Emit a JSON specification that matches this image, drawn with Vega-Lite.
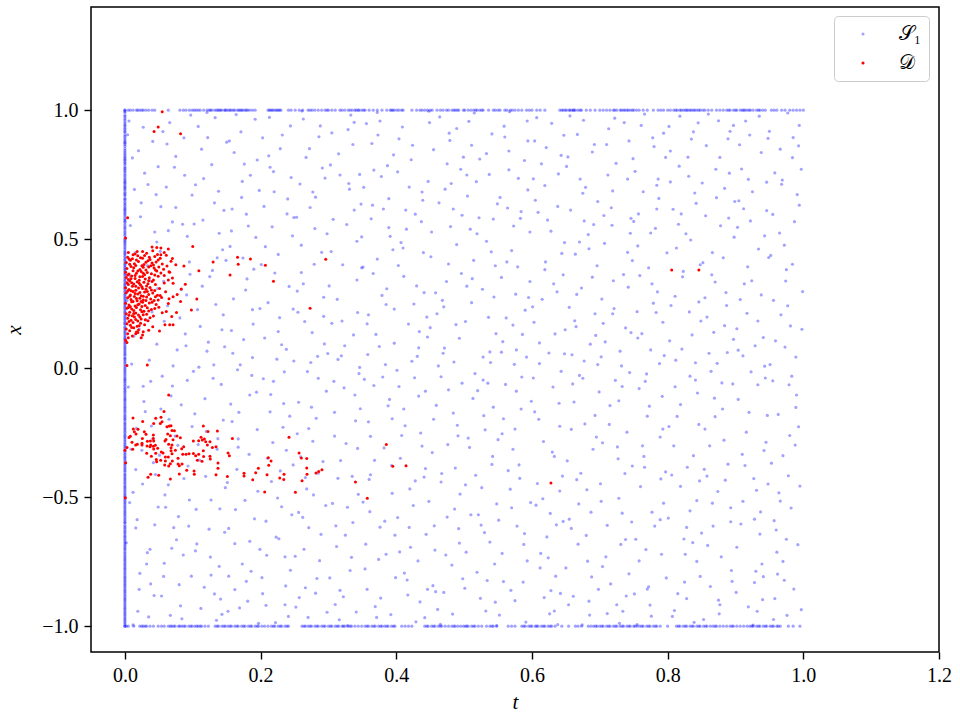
{
"$schema":"https://vega.github.io/schema/vega-lite/v6.json",
"width":848,"height":645,
"autosize":{"type":"none"},
"padding":{"left":91,"top":7,"right":21,"bottom":68},
"background":"white",
"config":{
"view":{"stroke":"black","strokeWidth":1.5},
"axis":{"domain":false,"grid":false,"tickColor":"black","tickSize":7,"tickWidth":1.4,"labelFont":"Liberation Serif","labelFontSize":20,"labelColor":"black","labelPadding":6,"titleFont":"Liberation Serif","titleFontSize":21,"titleFontStyle":"italic","titleFontWeight":"normal","titleColor":"black","labelFlush":false,"labelOverlap":false}
},
"datasets":{
"S1":[
{"t":0.034,"x":0.712},{"t":0.012,"x":-0.481},{"t":0.047,"x":0.093},{"t":0.021,"x":-0.857},{"t":0.008,"x":0.356},{"t":0.039,"x":-0.224},{"t":0.027,"x":0.934},{"t":0.016,"x":-0.619},{"t":0.044,"x":0.528},{"t":0.005,"x":-0.073},{"t":0.031,"x":0.187},{"t":0.019,"x":-0.942},{"t":0.042,"x":-0.366},{"t":0.024,"x":0.641},{"t":0.011,"x":0.815},{"t":0.037,"x":-0.702},{"t":0.003,"x":0.262},{"t":0.049,"x":-0.538},{"t":0.028,"x":-0.129},{"t":0.015,"x":0.447},{"t":0.041,"x":0.879},{"t":0.022,"x":-0.795},{"t":0.036,"x":0.031},{"t":0.009,"x":-0.314},{"t":0.046,"x":0.673},{"t":0.018,"x":-0.587},{"t":0.033,"x":0.398},{"t":0.006,"x":0.958},{"t":0.043,"x":-0.881},{"t":0.026,"x":-0.449},{"t":0.013,"x":0.124},{"t":0.038,"x":-0.051},{"t":0.029,"x":0.756},{"t":0.002,"x":-0.677},{"t":0.048,"x":0.309},{"t":0.017,"x":-0.233},{"t":0.035,"x":-0.964},{"t":0.023,"x":0.587},{"t":0.045,"x":-0.412},{"t":0.01,"x":0.016},{"t":0.032,"x":-0.759},{"t":0.02,"x":0.843},{"t":0.04,"x":0.218},{"t":0.007,"x":-0.521},{"t":0.025,"x":-0.318},{"t":0.047,"x":0.489},{"t":0.014,"x":0.693},{"t":0.038,"x":-0.836},{"t":0.03,"x":-0.168},{"t":0.004,"x":0.905},{"t":0.044,"x":-0.607},{"t":0.021,"x":0.152},{"t":0.012,"x":-0.995},{"t":0.036,"x":0.342},{"t":0.027,"x":-0.07},{"t":0.049,"x":0.781},{"t":0.016,"x":-0.393},{"t":0.041,"x":-0.274},{"t":0.008,"x":0.553},{"t":0.033,"x":-0.715},
{"t":0.072,"x":-0.618},{"t":0.091,"x":0.284},{"t":0.056,"x":0.917},{"t":0.083,"x":-0.142},{"t":0.064,"x":0.533},{"t":0.098,"x":-0.806},{"t":0.051,"x":-0.337},{"t":0.077,"x":0.071},{"t":0.088,"x":0.748},{"t":0.059,"x":-0.491},{"t":0.095,"x":0.412},{"t":0.067,"x":-0.958},{"t":0.081,"x":0.195},{"t":0.053,"x":0.626},{"t":0.074,"x":-0.263},{"t":0.092,"x":-0.047},{"t":0.062,"x":0.869},{"t":0.086,"x":-0.724},{"t":0.057,"x":0.337},{"t":0.079,"x":-0.575},{"t":0.097,"x":0.981},{"t":0.068,"x":-0.107},{"t":0.054,"x":-0.883},{"t":0.085,"x":0.558},{"t":0.071,"x":0.009},{"t":0.093,"x":-0.379},{"t":0.061,"x":0.702},{"t":0.076,"x":-0.665},{"t":0.089,"x":0.133},{"t":0.052,"x":0.453},{"t":0.082,"x":-0.921},{"t":0.065,"x":-0.198},{"t":0.099,"x":0.671},{"t":0.058,"x":-0.756},{"t":0.075,"x":0.821},{"t":0.087,"x":-0.428},{"t":0.063,"x":0.242},{"t":0.094,"x":-0.612},{"t":0.07,"x":0.567},{"t":0.055,"x":-0.031},{"t":0.08,"x":-0.839},{"t":0.096,"x":0.364},{"t":0.066,"x":0.952},{"t":0.078,"x":-0.299},{"t":0.06,"x":-0.539},{"t":0.09,"x":0.087},{"t":0.073,"x":0.779},{"t":0.084,"x":-0.971},{"t":0.058,"x":0.182},{"t":0.069,"x":-0.698},{"t":0.092,"x":0.511},{"t":0.053,"x":-0.158},{"t":0.087,"x":0.893},{"t":0.064,"x":-0.452},{"t":0.099,"x":-0.226},{"t":0.075,"x":0.623},{"t":0.057,"x":-0.807},{"t":0.083,"x":0.305},{"t":0.07,"x":-0.069},{"t":0.095,"x":-0.511},
{"t":0.113,"x":0.849},{"t":0.137,"x":-0.273},{"t":0.121,"x":0.066},{"t":0.146,"x":0.612},{"t":0.104,"x":-0.708},{"t":0.129,"x":0.379},{"t":0.141,"x":-0.895},{"t":0.118,"x":-0.118},{"t":0.133,"x":0.971},{"t":0.107,"x":0.227},{"t":0.148,"x":-0.463},{"t":0.124,"x":-0.624},{"t":0.139,"x":0.523},{"t":0.101,"x":-0.012},{"t":0.116,"x":0.735},{"t":0.143,"x":0.149},{"t":0.127,"x":-0.802},{"t":0.11,"x":-0.356},{"t":0.135,"x":-0.977},{"t":0.149,"x":0.418},{"t":0.122,"x":0.894},{"t":0.105,"x":-0.547},{"t":0.131,"x":0.013},{"t":0.145,"x":-0.201},{"t":0.114,"x":0.318},{"t":0.138,"x":0.686},{"t":0.102,"x":0.559},{"t":0.126,"x":-0.732},{"t":0.142,"x":-0.063},{"t":0.119,"x":-0.419},{"t":0.134,"x":0.247},{"t":0.108,"x":0.937},{"t":0.147,"x":-0.636},{"t":0.123,"x":0.101},{"t":0.112,"x":-0.931},{"t":0.136,"x":-0.314},{"t":0.128,"x":0.789},{"t":0.103,"x":-0.177},{"t":0.144,"x":0.459},{"t":0.117,"x":-0.849},{"t":0.132,"x":0.641},{"t":0.109,"x":0.004},{"t":0.14,"x":-0.545},{"t":0.125,"x":0.355},{"t":0.106,"x":-0.681},{"t":0.15,"x":0.876},{"t":0.12,"x":-0.245},{"t":0.13,"x":-0.039},{"t":0.145,"x":0.207},{"t":0.115,"x":0.574},{"t":0.139,"x":-0.768},{"t":0.104,"x":0.711},{"t":0.127,"x":-0.511},{"t":0.111,"x":0.162},{"t":0.143,"x":-0.954},{"t":0.121,"x":0.991},{"t":0.136,"x":0.428},{"t":0.108,"x":-0.296},{"t":0.132,"x":-0.875},{"t":0.147,"x":0.083},
{"t":0.163,"x":-0.548},{"t":0.188,"x":0.227},{"t":0.171,"x":0.916},{"t":0.194,"x":-0.093},{"t":0.155,"x":0.472},{"t":0.179,"x":-0.826},{"t":0.167,"x":-0.306},{"t":0.198,"x":0.689},{"t":0.159,"x":0.058},{"t":0.184,"x":-0.671},{"t":0.176,"x":0.791},{"t":0.152,"x":-0.942},{"t":0.19,"x":0.384},{"t":0.168,"x":-0.171},{"t":0.182,"x":0.551},{"t":0.157,"x":0.146},{"t":0.196,"x":-0.477},{"t":0.173,"x":-0.759},{"t":0.161,"x":0.836},{"t":0.187,"x":-0.028},{"t":0.153,"x":-0.621},{"t":0.178,"x":0.303},{"t":0.192,"x":0.965},{"t":0.165,"x":-0.392},{"t":0.181,"x":-0.903},{"t":0.158,"x":0.617},{"t":0.195,"x":-0.238},{"t":0.17,"x":0.013},{"t":0.185,"x":0.748},{"t":0.156,"x":-0.139},{"t":0.174,"x":0.427},{"t":0.199,"x":-0.702},{"t":0.162,"x":-0.858},{"t":0.189,"x":0.171},{"t":0.177,"x":-0.512},{"t":0.154,"x":0.881},{"t":0.193,"x":0.507},{"t":0.166,"x":-0.006},{"t":0.183,"x":-0.334},{"t":0.16,"x":0.269},{"t":0.197,"x":-0.989},{"t":0.172,"x":0.662},{"t":0.151,"x":-0.443},{"t":0.186,"x":-0.787},{"t":0.175,"x":0.111},{"t":0.164,"x":0.983},{"t":0.191,"x":-0.584},{"t":0.158,"x":-0.207},{"t":0.18,"x":0.346},{"t":0.169,"x":-0.929},{"t":0.195,"x":0.807},{"t":0.157,"x":0.532},{"t":0.184,"x":-0.104},{"t":0.173,"x":0.724},{"t":0.162,"x":-0.68},{"t":0.188,"x":0.041},{"t":0.167,"x":-0.274},{"t":0.199,"x":0.231},{"t":0.153,"x":-0.806},{"t":0.179,"x":0.597},
{"t":0.214,"x":0.779},{"t":0.238,"x":-0.318},{"t":0.226,"x":0.142},{"t":0.203,"x":-0.874},{"t":0.247,"x":0.513},{"t":0.219,"x":-0.051},{"t":0.232,"x":0.904},{"t":0.208,"x":-0.593},{"t":0.243,"x":-0.186},{"t":0.221,"x":0.369},{"t":0.236,"x":-0.731},{"t":0.205,"x":0.627},{"t":0.249,"x":0.028},{"t":0.216,"x":-0.439},{"t":0.229,"x":0.851},{"t":0.241,"x":-0.962},{"t":0.211,"x":0.254},{"t":0.234,"x":-0.137},{"t":0.223,"x":-0.655},{"t":0.207,"x":0.471},{"t":0.245,"x":0.739},{"t":0.218,"x":-0.288},{"t":0.231,"x":0.091},{"t":0.202,"x":-0.812},{"t":0.239,"x":0.598},{"t":0.225,"x":-0.503},{"t":0.213,"x":0.972},{"t":0.248,"x":-0.375},{"t":0.228,"x":0.196},{"t":0.204,"x":-0.041},{"t":0.236,"x":-0.917},{"t":0.22,"x":0.684},{"t":0.242,"x":0.317},{"t":0.209,"x":-0.725},{"t":0.233,"x":-0.229},{"t":0.217,"x":0.548},{"t":0.246,"x":-0.568},{"t":0.224,"x":0.035},{"t":0.212,"x":0.823},{"t":0.237,"x":-0.844},{"t":0.201,"x":0.402},{"t":0.229,"x":-0.398},{"t":0.244,"x":0.939},{"t":0.215,"x":-0.102},{"t":0.227,"x":-0.661},{"t":0.206,"x":0.117},{"t":0.24,"x":0.656},{"t":0.222,"x":-0.986},{"t":0.235,"x":-0.014},{"t":0.21,"x":-0.349},{"t":0.248,"x":0.229},{"t":0.219,"x":0.762},{"t":0.231,"x":-0.537},{"t":0.203,"x":0.893},{"t":0.244,"x":-0.783},{"t":0.226,"x":0.441},{"t":0.214,"x":-0.169},{"t":0.238,"x":0.073},{"t":0.208,"x":-0.919},{"t":0.249,"x":0.584},
{"t":0.263,"x":0.327},{"t":0.287,"x":-0.746},{"t":0.272,"x":0.851},{"t":0.256,"x":-0.132},{"t":0.294,"x":0.094},{"t":0.268,"x":-0.468},{"t":0.281,"x":0.663},{"t":0.252,"x":-0.926},{"t":0.277,"x":-0.283},{"t":0.298,"x":0.521},{"t":0.261,"x":0.997},{"t":0.285,"x":-0.039},{"t":0.271,"x":-0.618},{"t":0.255,"x":0.217},{"t":0.291,"x":0.776},{"t":0.266,"x":-0.851},{"t":0.279,"x":0.403},{"t":0.259,"x":-0.344},{"t":0.296,"x":-0.532},{"t":0.274,"x":0.022},{"t":0.288,"x":0.939},{"t":0.253,"x":0.585},{"t":0.282,"x":-0.194},{"t":0.264,"x":-0.702},{"t":0.293,"x":0.275},{"t":0.27,"x":-0.966},{"t":0.258,"x":0.714},{"t":0.285,"x":-0.407},{"t":0.276,"x":0.138},{"t":0.297,"x":-0.089},{"t":0.262,"x":-0.578},{"t":0.29,"x":0.449},{"t":0.267,"x":0.817},{"t":0.254,"x":-0.254},{"t":0.283,"x":-0.815},{"t":0.273,"x":0.623},{"t":0.299,"x":0.057},{"t":0.26,"x":0.371},{"t":0.278,"x":-0.491},{"t":0.286,"x":0.897},{"t":0.251,"x":-0.729},{"t":0.269,"x":-0.013},{"t":0.292,"x":-0.362},{"t":0.265,"x":0.181},{"t":0.28,"x":0.541},{"t":0.257,"x":-0.889},{"t":0.295,"x":0.737},{"t":0.275,"x":-0.151},{"t":0.263,"x":0.966},{"t":0.289,"x":-0.644},{"t":0.254,"x":0.299},{"t":0.271,"x":-0.234},{"t":0.284,"x":0.046},{"t":0.298,"x":-0.946},{"t":0.26,"x":0.477},{"t":0.277,"x":0.683},{"t":0.266,"x":-0.424},{"t":0.293,"x":0.201},{"t":0.256,"x":-0.559},{"t":0.281,"x":-0.872},
{"t":0.314,"x":-0.427},{"t":0.338,"x":0.613},{"t":0.322,"x":-0.886},{"t":0.305,"x":0.174},{"t":0.347,"x":-0.157},{"t":0.329,"x":0.925},{"t":0.311,"x":-0.611},{"t":0.342,"x":0.342},{"t":0.319,"x":0.048},{"t":0.334,"x":-0.733},{"t":0.303,"x":0.788},{"t":0.326,"x":-0.292},{"t":0.349,"x":0.509},{"t":0.316,"x":-0.975},{"t":0.337,"x":0.129},{"t":0.308,"x":-0.051},{"t":0.331,"x":0.694},{"t":0.344,"x":-0.489},{"t":0.321,"x":0.401},{"t":0.302,"x":-0.813},{"t":0.336,"x":0.867},{"t":0.313,"x":0.267},{"t":0.34,"x":-0.204},{"t":0.325,"x":-0.647},{"t":0.307,"x":0.577},{"t":0.346,"x":0.003},{"t":0.318,"x":-0.358},{"t":0.333,"x":0.981},{"t":0.31,"x":-0.916},{"t":0.343,"x":0.216},{"t":0.328,"x":-0.539},{"t":0.304,"x":0.452},{"t":0.339,"x":-0.104},{"t":0.317,"x":0.749},{"t":0.332,"x":-0.784},{"t":0.348,"x":0.636},{"t":0.309,"x":-0.263},{"t":0.324,"x":0.087},{"t":0.341,"x":-0.945},{"t":0.315,"x":0.831},{"t":0.335,"x":-0.419},{"t":0.301,"x":0.319},{"t":0.327,"x":0.557},{"t":0.345,"x":-0.021},{"t":0.312,"x":-0.691},{"t":0.338,"x":0.953},{"t":0.32,"x":0.183},{"t":0.306,"x":-0.524},{"t":0.343,"x":-0.311},{"t":0.33,"x":0.716},{"t":0.317,"x":-0.861},{"t":0.349,"x":0.389},{"t":0.323,"x":-0.076},{"t":0.305,"x":0.912},{"t":0.336,"x":-0.598},{"t":0.314,"x":0.034},{"t":0.342,"x":0.492},{"t":0.328,"x":-0.998},{"t":0.309,"x":-0.171},{"t":0.346,"x":0.751},
{"t":0.364,"x":0.871},{"t":0.388,"x":-0.146},{"t":0.372,"x":0.423},{"t":0.355,"x":-0.682},{"t":0.397,"x":0.229},{"t":0.369,"x":-0.924},{"t":0.381,"x":0.617},{"t":0.358,"x":0.053},{"t":0.393,"x":-0.377},{"t":0.376,"x":0.958},{"t":0.351,"x":-0.519},{"t":0.386,"x":0.308},{"t":0.367,"x":-0.067},{"t":0.399,"x":-0.812},{"t":0.378,"x":0.743},{"t":0.362,"x":-0.264},{"t":0.391,"x":0.511},{"t":0.357,"x":0.172},{"t":0.383,"x":-0.593},{"t":0.371,"x":-0.966},{"t":0.396,"x":0.827},{"t":0.36,"x":-0.431},{"t":0.375,"x":0.084},{"t":0.389,"x":0.657},{"t":0.354,"x":-0.778},{"t":0.38,"x":-0.034},{"t":0.366,"x":0.367},{"t":0.394,"x":-0.485},{"t":0.373,"x":0.904},{"t":0.359,"x":-0.208},{"t":0.385,"x":0.247},{"t":0.398,"x":-0.647},{"t":0.363,"x":0.579},{"t":0.377,"x":-0.891},{"t":0.352,"x":0.701},{"t":0.39,"x":-0.121},{"t":0.368,"x":-0.357},{"t":0.384,"x":0.014},{"t":0.356,"x":0.948},{"t":0.395,"x":0.459},{"t":0.374,"x":-0.741},{"t":0.361,"x":-0.556},{"t":0.387,"x":0.785},{"t":0.37,"x":0.131},{"t":0.353,"x":-0.043},{"t":0.392,"x":-0.955},{"t":0.379,"x":0.282},{"t":0.365,"x":0.632},{"t":0.382,"x":-0.309},{"t":0.357,"x":-0.857},{"t":0.397,"x":0.097},{"t":0.372,"x":0.991},{"t":0.362,"x":-0.413},{"t":0.389,"x":0.545},{"t":0.376,"x":-0.616},{"t":0.351,"x":0.392},{"t":0.394,"x":-0.196},{"t":0.367,"x":0.768},{"t":0.385,"x":-0.721},{"t":0.359,"x":0.207},
{"t":0.413,"x":-0.223},{"t":0.437,"x":0.568},{"t":0.421,"x":-0.694},{"t":0.404,"x":0.889},{"t":0.446,"x":0.121},{"t":0.428,"x":-0.437},{"t":0.411,"x":0.356},{"t":0.442,"x":-0.967},{"t":0.419,"x":0.702},{"t":0.433,"x":-0.108},{"t":0.402,"x":-0.579},{"t":0.426,"x":0.249},{"t":0.449,"x":0.952},{"t":0.416,"x":-0.821},{"t":0.438,"x":-0.302},{"t":0.407,"x":0.487},{"t":0.431,"x":0.046},{"t":0.444,"x":-0.644},{"t":0.422,"x":0.808},{"t":0.401,"x":-0.008},{"t":0.435,"x":-0.906},{"t":0.414,"x":0.613},{"t":0.441,"x":0.293},{"t":0.425,"x":-0.532},{"t":0.408,"x":-0.261},{"t":0.447,"x":0.724},{"t":0.418,"x":0.171},{"t":0.432,"x":-0.747},{"t":0.409,"x":0.935},{"t":0.443,"x":-0.389},{"t":0.427,"x":-0.037},{"t":0.403,"x":0.398},{"t":0.439,"x":0.651},{"t":0.417,"x":-0.879},{"t":0.433,"x":0.079},{"t":0.448,"x":-0.516},{"t":0.411,"x":-0.158},{"t":0.424,"x":0.864},{"t":0.44,"x":0.448},{"t":0.405,"x":-0.712},{"t":0.429,"x":-0.983},{"t":0.445,"x":0.198},{"t":0.415,"x":0.539},{"t":0.436,"x":-0.251},{"t":0.402,"x":0.761},{"t":0.42,"x":-0.468},{"t":0.443,"x":-0.089},{"t":0.43,"x":0.319},{"t":0.412,"x":-0.794},{"t":0.448,"x":0.996},{"t":0.423,"x":0.027},{"t":0.406,"x":-0.349},{"t":0.438,"x":0.683},{"t":0.419,"x":-0.617},{"t":0.434,"x":0.142},{"t":0.41,"x":0.466},{"t":0.446,"x":-0.857},{"t":0.428,"x":0.597},{"t":0.404,"x":-0.071},{"t":0.441,"x":-0.422},
{"t":0.463,"x":0.641},{"t":0.487,"x":-0.387},{"t":0.471,"x":0.078},{"t":0.454,"x":-0.843},{"t":0.496,"x":0.367},{"t":0.478,"x":0.911},{"t":0.459,"x":-0.144},{"t":0.492,"x":-0.622},{"t":0.468,"x":0.263},{"t":0.483,"x":-0.953},{"t":0.452,"x":0.528},{"t":0.476,"x":-0.296},{"t":0.499,"x":0.818},{"t":0.466,"x":-0.033},{"t":0.488,"x":0.169},{"t":0.457,"x":-0.705},{"t":0.481,"x":0.716},{"t":0.494,"x":-0.488},{"t":0.47,"x":-0.869},{"t":0.451,"x":0.432},{"t":0.485,"x":0.024},{"t":0.464,"x":0.974},{"t":0.49,"x":-0.221},{"t":0.475,"x":-0.577},{"t":0.458,"x":0.292},{"t":0.497,"x":0.593},{"t":0.467,"x":-0.408},{"t":0.482,"x":-0.763},{"t":0.455,"x":0.847},{"t":0.493,"x":0.116},{"t":0.477,"x":-0.084},{"t":0.461,"x":-0.935},{"t":0.489,"x":0.479},{"t":0.472,"x":0.694},{"t":0.453,"x":-0.327},{"t":0.486,"x":-0.546},{"t":0.469,"x":0.058},{"t":0.498,"x":-0.816},{"t":0.479,"x":0.883},{"t":0.46,"x":0.211},{"t":0.484,"x":-0.174},{"t":0.474,"x":0.336},{"t":0.456,"x":-0.611},{"t":0.495,"x":0.771},{"t":0.465,"x":-0.993},{"t":0.48,"x":0.549},{"t":0.491,"x":-0.262},{"t":0.462,"x":0.009},{"t":0.473,"x":-0.724},{"t":0.45,"x":0.157},{"t":0.489,"x":0.929},{"t":0.466,"x":-0.441},{"t":0.477,"x":0.404},{"t":0.497,"x":-0.058},{"t":0.458,"x":-0.866},{"t":0.484,"x":0.617},{"t":0.47,"x":0.238},{"t":0.455,"x":-0.198},{"t":0.493,"x":-0.678},{"t":0.475,"x":0.792},
{"t":0.513,"x":-0.117},{"t":0.537,"x":0.751},{"t":0.521,"x":-0.568},{"t":0.504,"x":0.318},{"t":0.546,"x":-0.907},{"t":0.528,"x":0.043},{"t":0.511,"x":0.864},{"t":0.542,"x":-0.342},{"t":0.519,"x":-0.791},{"t":0.533,"x":0.492},{"t":0.502,"x":0.181},{"t":0.526,"x":-0.463},{"t":0.549,"x":0.637},{"t":0.516,"x":-0.021},{"t":0.538,"x":-0.674},{"t":0.507,"x":0.957},{"t":0.531,"x":-0.239},{"t":0.544,"x":0.276},{"t":0.522,"x":0.583},{"t":0.501,"x":-0.853},{"t":0.535,"x":-0.058},{"t":0.514,"x":0.418},{"t":0.541,"x":0.908},{"t":0.525,"x":-0.608},{"t":0.508,"x":-0.307},{"t":0.547,"x":0.134},{"t":0.518,"x":0.723},{"t":0.532,"x":-0.941},{"t":0.509,"x":0.539},{"t":0.543,"x":-0.151},{"t":0.527,"x":0.306},{"t":0.503,"x":-0.713},{"t":0.539,"x":0.022},{"t":0.517,"x":-0.415},{"t":0.533,"x":0.832},{"t":0.548,"x":-0.526},{"t":0.511,"x":0.254},{"t":0.524,"x":-0.892},{"t":0.54,"x":0.451},{"t":0.505,"x":0.667},{"t":0.529,"x":-0.184},{"t":0.545,"x":-0.759},{"t":0.515,"x":0.989},{"t":0.536,"x":0.197},{"t":0.502,"x":-0.452},{"t":0.52,"x":-0.087},{"t":0.543,"x":0.578},{"t":0.53,"x":-0.637},{"t":0.512,"x":0.347},{"t":0.548,"x":-0.998},{"t":0.523,"x":0.811},{"t":0.506,"x":-0.271},{"t":0.538,"x":0.063},{"t":0.519,"x":0.521},{"t":0.534,"x":-0.823},{"t":0.51,"x":-0.568},{"t":0.546,"x":0.397},{"t":0.528,"x":-0.046},{"t":0.504,"x":0.749},{"t":0.541,"x":-0.373},
{"t":0.563,"x":0.412},{"t":0.587,"x":-0.829},{"t":0.572,"x":0.167},{"t":0.556,"x":-0.254},{"t":0.594,"x":0.691},{"t":0.578,"x":-0.612},{"t":0.559,"x":0.938},{"t":0.592,"x":0.043},{"t":0.568,"x":-0.469},{"t":0.583,"x":0.581},{"t":0.552,"x":-0.957},{"t":0.576,"x":0.287},{"t":0.599,"x":-0.128},{"t":0.566,"x":0.769},{"t":0.588,"x":-0.683},{"t":0.557,"x":0.103},{"t":0.581,"x":-0.375},{"t":0.594,"x":0.881},{"t":0.57,"x":0.456},{"t":0.551,"x":-0.589},{"t":0.585,"x":-0.034},{"t":0.564,"x":0.621},{"t":0.59,"x":0.225},{"t":0.575,"x":-0.901},{"t":0.558,"x":-0.196},{"t":0.597,"x":0.528},{"t":0.567,"x":0.994},{"t":0.582,"x":-0.427},{"t":0.555,"x":0.352},{"t":0.593,"x":-0.747},{"t":0.577,"x":0.071},{"t":0.561,"x":-0.063},{"t":0.589,"x":0.805},{"t":0.572,"x":-0.314},{"t":0.553,"x":0.662},{"t":0.586,"x":0.131},{"t":0.569,"x":-0.861},{"t":0.598,"x":-0.521},{"t":0.579,"x":0.393},{"t":0.56,"x":0.896},{"t":0.584,"x":-0.158},{"t":0.574,"x":0.015},{"t":0.556,"x":-0.718},{"t":0.595,"x":0.274},{"t":0.565,"x":-0.397},{"t":0.58,"x":0.736},{"t":0.591,"x":-0.984},{"t":0.562,"x":0.195},{"t":0.573,"x":0.551},{"t":0.55,"x":-0.277},{"t":0.589,"x":-0.641},{"t":0.566,"x":0.842},{"t":0.577,"x":-0.089},{"t":0.597,"x":0.336},{"t":0.558,"x":-0.827},{"t":0.584,"x":0.607},{"t":0.57,"x":-0.541},{"t":0.555,"x":0.062},{"t":0.593,"x":0.958},{"t":0.575,"x":-0.236},
{"t":0.613,"x":-0.718},{"t":0.637,"x":0.296},{"t":0.621,"x":0.855},{"t":0.604,"x":-0.169},{"t":0.646,"x":-0.594},{"t":0.628,"x":0.531},{"t":0.611,"x":0.018},{"t":0.642,"x":-0.873},{"t":0.619,"x":0.382},{"t":0.633,"x":-0.342},{"t":0.602,"x":0.734},{"t":0.626,"x":-0.952},{"t":0.649,"x":0.149},{"t":0.616,"x":-0.506},{"t":0.638,"x":0.627},{"t":0.607,"x":0.971},{"t":0.631,"x":-0.073},{"t":0.644,"x":0.445},{"t":0.622,"x":-0.654},{"t":0.601,"x":0.238},{"t":0.635,"x":-0.806},{"t":0.614,"x":0.792},{"t":0.641,"x":-0.225},{"t":0.625,"x":0.059},{"t":0.608,"x":-0.447},{"t":0.647,"x":0.903},{"t":0.618,"x":-0.889},{"t":0.632,"x":0.327},{"t":0.609,"x":0.604},{"t":0.643,"x":-0.012},{"t":0.627,"x":-0.563},{"t":0.603,"x":0.178},{"t":0.639,"x":0.753},{"t":0.617,"x":-0.284},{"t":0.633,"x":-0.941},{"t":0.648,"x":0.487},{"t":0.611,"x":0.098},{"t":0.624,"x":-0.735},{"t":0.64,"x":-0.136},{"t":0.605,"x":0.651},{"t":0.629,"x":0.949},{"t":0.645,"x":-0.418},{"t":0.615,"x":0.267},{"t":0.636,"x":-0.607},{"t":0.602,"x":-0.038},{"t":0.62,"x":0.412},{"t":0.643,"x":0.825},{"t":0.63,"x":-0.325},{"t":0.612,"x":-0.774},{"t":0.648,"x":0.056},{"t":0.623,"x":0.574},{"t":0.606,"x":-0.531},{"t":0.638,"x":-0.994},{"t":0.619,"x":0.708},{"t":0.634,"x":0.133},{"t":0.61,"x":-0.198},{"t":0.646,"x":0.362},{"t":0.628,"x":-0.862},{"t":0.604,"x":0.881},{"t":0.641,"x":-0.476},
{"t":0.663,"x":0.184},{"t":0.687,"x":-0.558},{"t":0.671,"x":0.733},{"t":0.654,"x":-0.917},{"t":0.696,"x":0.397},{"t":0.678,"x":-0.216},{"t":0.659,"x":0.052},{"t":0.692,"x":0.867},{"t":0.668,"x":-0.682},{"t":0.683,"x":0.518},{"t":0.652,"x":-0.359},{"t":0.676,"x":0.961},{"t":0.699,"x":-0.092},{"t":0.666,"x":0.286},{"t":0.688,"x":-0.809},{"t":0.657,"x":0.613},{"t":0.681,"x":-0.471},{"t":0.694,"x":0.127},{"t":0.67,"x":-0.028},{"t":0.651,"x":0.782},{"t":0.685,"x":-0.957},{"t":0.664,"x":0.442},{"t":0.69,"x":-0.314},{"t":0.675,"x":0.678},{"t":0.658,"x":-0.621},{"t":0.697,"x":0.014},{"t":0.667,"x":0.906},{"t":0.682,"x":-0.748},{"t":0.655,"x":0.236},{"t":0.693,"x":-0.183},{"t":0.677,"x":0.571},{"t":0.661,"x":-0.884},{"t":0.689,"x":0.353},{"t":0.672,"x":-0.407},{"t":0.653,"x":0.819},{"t":0.686,"x":0.093},{"t":0.669,"x":-0.526},{"t":0.698,"x":-0.857},{"t":0.679,"x":0.701},{"t":0.66,"x":-0.061},{"t":0.684,"x":0.463},{"t":0.674,"x":-0.995},{"t":0.656,"x":0.978},{"t":0.695,"x":-0.267},{"t":0.665,"x":0.161},{"t":0.68,"x":-0.648},{"t":0.691,"x":0.557},{"t":0.662,"x":-0.131},{"t":0.673,"x":0.311},{"t":0.65,"x":-0.774},{"t":0.689,"x":0.838},{"t":0.666,"x":-0.432},{"t":0.677,"x":0.028},{"t":0.697,"x":0.646},{"t":0.658,"x":-0.237},{"t":0.684,"x":-0.903},{"t":0.67,"x":0.489},{"t":0.655,"x":-0.585},{"t":0.693,"x":0.211},{"t":0.675,"x":-0.039},
{"t":0.713,"x":0.928},{"t":0.737,"x":-0.408},{"t":0.721,"x":0.231},{"t":0.704,"x":-0.769},{"t":0.746,"x":0.581},{"t":0.728,"x":-0.126},{"t":0.711,"x":-0.951},{"t":0.742,"x":0.314},{"t":0.719,"x":0.687},{"t":0.733,"x":-0.562},{"t":0.702,"x":0.044},{"t":0.726,"x":-0.305},{"t":0.749,"x":0.812},{"t":0.716,"x":-0.836},{"t":0.738,"x":0.156},{"t":0.707,"x":0.484},{"t":0.731,"x":-0.683},{"t":0.744,"x":-0.017},{"t":0.722,"x":0.969},{"t":0.701,"x":-0.448},{"t":0.735,"x":0.363},{"t":0.714,"x":-0.218},{"t":0.741,"x":0.733},{"t":0.725,"x":-0.917},{"t":0.708,"x":0.102},{"t":0.747,"x":-0.596},{"t":0.718,"x":0.554},{"t":0.732,"x":0.009},{"t":0.709,"x":-0.731},{"t":0.743,"x":0.881},{"t":0.727,"x":-0.351},{"t":0.703,"x":0.268},{"t":0.739,"x":-0.883},{"t":0.717,"x":0.622},{"t":0.733,"x":-0.071},{"t":0.748,"x":0.417},{"t":0.711,"x":-0.609},{"t":0.724,"x":0.794},{"t":0.74,"x":-0.248},{"t":0.705,"x":0.174},{"t":0.729,"x":-0.989},{"t":0.745,"x":0.523},{"t":0.715,"x":-0.145},{"t":0.736,"x":0.952},{"t":0.702,"x":-0.516},{"t":0.72,"x":0.339},{"t":0.743,"x":-0.797},{"t":0.73,"x":0.066},{"t":0.712,"x":0.749},{"t":0.748,"x":-0.379},{"t":0.723,"x":-0.047},{"t":0.706,"x":0.592},{"t":0.738,"x":-0.664},{"t":0.719,"x":0.211},{"t":0.734,"x":-0.942},{"t":0.71,"x":0.867},{"t":0.746,"x":0.138},{"t":0.728,"x":-0.504},{"t":0.704,"x":-0.289},{"t":0.741,"x":0.449},
{"t":0.763,"x":-0.301},{"t":0.787,"x":0.658},{"t":0.772,"x":-0.847},{"t":0.756,"x":0.117},{"t":0.794,"x":-0.523},{"t":0.778,"x":0.893},{"t":0.759,"x":0.359},{"t":0.792,"x":-0.109},{"t":0.768,"x":-0.703},{"t":0.783,"x":0.216},{"t":0.752,"x":0.763},{"t":0.776,"x":-0.961},{"t":0.799,"x":0.447},{"t":0.766,"x":-0.384},{"t":0.788,"x":0.018},{"t":0.757,"x":0.598},{"t":0.781,"x":-0.612},{"t":0.794,"x":0.911},{"t":0.77,"x":-0.186},{"t":0.751,"x":-0.875},{"t":0.785,"x":0.296},{"t":0.764,"x":0.684},{"t":0.79,"x":-0.429},{"t":0.775,"x":0.071},{"t":0.758,"x":-0.747},{"t":0.797,"x":0.817},{"t":0.767,"x":-0.051},{"t":0.782,"x":0.542},{"t":0.755,"x":-0.994},{"t":0.793,"x":0.178},{"t":0.777,"x":-0.558},{"t":0.761,"x":0.941},{"t":0.789,"x":-0.267},{"t":0.772,"x":0.389},{"t":0.753,"x":-0.663},{"t":0.786,"x":0.733},{"t":0.769,"x":-0.022},{"t":0.798,"x":-0.813},{"t":0.779,"x":0.252},{"t":0.76,"x":-0.459},{"t":0.784,"x":0.617},{"t":0.774,"x":-0.918},{"t":0.756,"x":0.474},{"t":0.795,"x":0.049},{"t":0.765,"x":-0.342},{"t":0.78,"x":0.859},{"t":0.791,"x":-0.721},{"t":0.762,"x":0.134},{"t":0.773,"x":-0.147},{"t":0.75,"x":0.569},{"t":0.789,"x":-0.587},{"t":0.766,"x":0.985},{"t":0.777,"x":0.327},{"t":0.797,"x":-0.402},{"t":0.758,"x":-0.079},{"t":0.784,"x":0.709},{"t":0.77,"x":-0.856},{"t":0.755,"x":0.219},{"t":0.793,"x":-0.236},{"t":0.775,"x":0.524},
{"t":0.813,"x":0.466},{"t":0.837,"x":-0.676},{"t":0.821,"x":0.074},{"t":0.804,"x":0.842},{"t":0.846,"x":-0.218},{"t":0.828,"x":-0.893},{"t":0.811,"x":0.279},{"t":0.842,"x":0.639},{"t":0.819,"x":-0.458},{"t":0.833,"x":-0.031},{"t":0.802,"x":0.937},{"t":0.826,"x":-0.721},{"t":0.849,"x":0.183},{"t":0.816,"x":0.558},{"t":0.838,"x":-0.339},{"t":0.807,"x":-0.962},{"t":0.831,"x":0.744},{"t":0.844,"x":-0.096},{"t":0.822,"x":0.354},{"t":0.801,"x":-0.581},{"t":0.835,"x":0.888},{"t":0.814,"x":-0.187},{"t":0.841,"x":0.021},{"t":0.825,"x":-0.829},{"t":0.808,"x":0.616},{"t":0.847,"x":-0.437},{"t":0.818,"x":0.977},{"t":0.832,"x":0.218},{"t":0.809,"x":-0.301},{"t":0.843,"x":-0.749},{"t":0.827,"x":0.521},{"t":0.803,"x":0.106},{"t":0.839,"x":-0.985},{"t":0.817,"x":0.783},{"t":0.833,"x":-0.553},{"t":0.848,"x":0.401},{"t":0.811,"x":-0.072},{"t":0.824,"x":-0.662},{"t":0.84,"x":0.679},{"t":0.805,"x":0.243},{"t":0.829,"x":-0.384},{"t":0.845,"x":0.951},{"t":0.815,"x":-0.874},{"t":0.836,"x":0.129},{"t":0.802,"x":-0.226},{"t":0.82,"x":0.598},{"t":0.843,"x":-0.513},{"t":0.83,"x":0.818},{"t":0.812,"x":0.031},{"t":0.848,"x":-0.807},{"t":0.823,"x":0.375},{"t":0.806,"x":-0.414},{"t":0.838,"x":0.916},{"t":0.819,"x":-0.141},{"t":0.834,"x":0.497},{"t":0.81,"x":-0.939},{"t":0.846,"x":0.257},{"t":0.828,"x":-0.617},{"t":0.804,"x":0.722},{"t":0.841,"x":-0.046},
{"t":0.863,"x":-0.846},{"t":0.887,"x":0.243},{"t":0.871,"x":0.771},{"t":0.854,"x":-0.392},{"t":0.896,"x":-0.061},{"t":0.878,"x":0.552},{"t":0.859,"x":-0.687},{"t":0.892,"x":0.918},{"t":0.868,"x":0.139},{"t":0.883,"x":-0.279},{"t":0.852,"x":0.409},{"t":0.876,"x":-0.952},{"t":0.899,"x":0.646},{"t":0.866,"x":-0.523},{"t":0.888,"x":0.061},{"t":0.857,"x":0.863},{"t":0.881,"x":-0.158},{"t":0.894,"x":-0.784},{"t":0.87,"x":0.334},{"t":0.851,"x":0.718},{"t":0.885,"x":-0.434},{"t":0.864,"x":-0.012},{"t":0.89,"x":0.582},{"t":0.875,"x":-0.899},{"t":0.858,"x":0.198},{"t":0.897,"x":0.941},{"t":0.867,"x":-0.612},{"t":0.882,"x":0.428},{"t":0.855,"x":-0.236},{"t":0.893,"x":-0.541},{"t":0.877,"x":0.817},{"t":0.861,"x":0.058},{"t":0.889,"x":-0.372},{"t":0.872,"x":0.661},{"t":0.853,"x":-0.974},{"t":0.886,"x":0.293},{"t":0.869,"x":-0.116},{"t":0.898,"x":0.508},{"t":0.879,"x":-0.731},{"t":0.86,"x":0.985},{"t":0.884,"x":0.165},{"t":0.874,"x":-0.478},{"t":0.856,"x":0.591},{"t":0.895,"x":-0.826},{"t":0.865,"x":0.362},{"t":0.88,"x":-0.057},{"t":0.891,"x":0.756},{"t":0.862,"x":-0.301},{"t":0.873,"x":0.019},{"t":0.85,"x":-0.639},{"t":0.889,"x":0.889},{"t":0.866,"x":0.448},{"t":0.877,"x":-0.917},{"t":0.897,"x":0.112},{"t":0.858,"x":-0.418},{"t":0.884,"x":0.697},{"t":0.87,"x":-0.188},{"t":0.855,"x":0.273},{"t":0.893,"x":-0.595},{"t":0.875,"x":0.959},
{"t":0.913,"x":0.327},{"t":0.937,"x":-0.557},{"t":0.921,"x":0.904},{"t":0.904,"x":-0.121},{"t":0.946,"x":0.611},{"t":0.928,"x":-0.831},{"t":0.911,"x":0.048},{"t":0.942,"x":-0.319},{"t":0.919,"x":0.732},{"t":0.933,"x":0.183},{"t":0.902,"x":-0.694},{"t":0.926,"x":-0.996},{"t":0.949,"x":0.429},{"t":0.916,"x":-0.248},{"t":0.938,"x":0.836},{"t":0.907,"x":0.266},{"t":0.931,"x":-0.473},{"t":0.944,"x":-0.038},{"t":0.922,"x":0.571},{"t":0.901,"x":-0.869},{"t":0.935,"x":0.977},{"t":0.914,"x":-0.377},{"t":0.941,"x":0.119},{"t":0.925,"x":0.684},{"t":0.908,"x":-0.604},{"t":0.947,"x":-0.183},{"t":0.918,"x":0.393},{"t":0.932,"x":-0.942},{"t":0.909,"x":0.772},{"t":0.943,"x":0.008},{"t":0.927,"x":-0.428},{"t":0.903,"x":0.546},{"t":0.939,"x":-0.759},{"t":0.917,"x":0.213},{"t":0.933,"x":-0.064},{"t":0.948,"x":0.891},{"t":0.911,"x":-0.516},{"t":0.924,"x":0.339},{"t":0.94,"x":-0.897},{"t":0.905,"x":0.649},{"t":0.929,"x":0.087},{"t":0.945,"x":-0.287},{"t":0.915,"x":0.958},{"t":0.936,"x":-0.643},{"t":0.902,"x":0.153},{"t":0.92,"x":-0.171},{"t":0.943,"x":0.513},{"t":0.93,"x":-0.787},{"t":0.912,"x":0.618},{"t":0.948,"x":-0.449},{"t":0.923,"x":-0.014},{"t":0.906,"x":0.866},{"t":0.938,"x":0.284},{"t":0.919,"x":-0.925},{"t":0.934,"x":0.462},{"t":0.91,"x":-0.334},{"t":0.946,"x":0.721},{"t":0.928,"x":-0.585},{"t":0.904,"x":0.07},{"t":0.941,"x":-0.808},
{"t":0.963,"x":-0.179},{"t":0.987,"x":0.568},{"t":0.972,"x":-0.822},{"t":0.956,"x":0.263},{"t":0.994,"x":0.941},{"t":0.978,"x":-0.417},{"t":0.959,"x":0.106},{"t":0.992,"x":-0.684},{"t":0.968,"x":0.713},{"t":0.983,"x":-0.031},{"t":0.952,"x":0.437},{"t":0.976,"x":-0.958},{"t":0.999,"x":0.297},{"t":0.966,"x":0.849},{"t":0.988,"x":-0.298},{"t":0.957,"x":-0.591},{"t":0.981,"x":0.164},{"t":0.994,"x":0.632},{"t":0.97,"x":-0.749},{"t":0.951,"x":0.014},{"t":0.985,"x":0.894},{"t":0.964,"x":-0.483},{"t":0.99,"x":-0.104},{"t":0.975,"x":0.382},{"t":0.958,"x":-0.893},{"t":0.997,"x":0.771},{"t":0.967,"x":0.207},{"t":0.982,"x":-0.542},{"t":0.955,"x":0.596},{"t":0.993,"x":-0.227},{"t":0.977,"x":0.989},{"t":0.961,"x":-0.713},{"t":0.989,"x":0.043},{"t":0.972,"x":0.477},{"t":0.953,"x":-0.368},{"t":0.986,"x":-0.856},{"t":0.969,"x":0.729},{"t":0.998,"x":0.151},{"t":0.979,"x":-0.064},{"t":0.96,"x":-0.627},{"t":0.984,"x":0.816},{"t":0.974,"x":0.338},{"t":0.956,"x":-0.974},{"t":0.995,"x":-0.457},{"t":0.965,"x":0.524},{"t":0.98,"x":-0.261},{"t":0.991,"x":0.673},{"t":0.962,"x":-0.798},{"t":0.973,"x":0.082},{"t":0.95,"x":0.918},{"t":0.989,"x":-0.152},{"t":0.966,"x":-0.515},{"t":0.977,"x":0.242},{"t":0.997,"x":-0.936},{"t":0.958,"x":0.757},{"t":0.984,"x":0.403},{"t":0.97,"x":-0.339},{"t":0.955,"x":-0.049},{"t":0.993,"x":0.862},{"t":0.975,"x":-0.663},
{"t":0.0,"x":1},{"t":0.005,"x":1},{"t":0.008,"x":1},{"t":0.012,"x":1},{"t":0.017,"x":1},{"t":0.019,"x":1},{"t":0.022,"x":1},{"t":0.025,"x":1},{"t":0.027,"x":1},{"t":0.031,"x":1},{"t":0.035,"x":1},{"t":0.04,"x":1},{"t":0.044,"x":1},{"t":0.064,"x":1},{"t":0.081,"x":1},{"t":0.086,"x":1},{"t":0.09,"x":1},{"t":0.095,"x":1},{"t":0.099,"x":1},{"t":0.102,"x":1},{"t":0.105,"x":1},{"t":0.108,"x":1},{"t":0.111,"x":1},{"t":0.116,"x":1},{"t":0.121,"x":1},{"t":0.124,"x":1},{"t":0.126,"x":1},{"t":0.128,"x":1},{"t":0.132,"x":1},{"t":0.135,"x":1},{"t":0.137,"x":1},{"t":0.139,"x":1},{"t":0.141,"x":1},{"t":0.143,"x":1},{"t":0.147,"x":1},{"t":0.148,"x":1},{"t":0.15,"x":1},{"t":0.153,"x":1},{"t":0.155,"x":1},{"t":0.157,"x":1},{"t":0.16,"x":1},{"t":0.162,"x":1},{"t":0.166,"x":1},{"t":0.168,"x":1},{"t":0.17,"x":1},{"t":0.172,"x":1},{"t":0.174,"x":1},{"t":0.177,"x":1},{"t":0.179,"x":1},{"t":0.181,"x":1},{"t":0.184,"x":1},{"t":0.188,"x":1},{"t":0.192,"x":1},{"t":0.211,"x":1},{"t":0.213,"x":1},{"t":0.215,"x":1},{"t":0.217,"x":1},{"t":0.219,"x":1},{"t":0.222,"x":1},{"t":0.224,"x":1},{"t":0.226,"x":1},{"t":0.228,"x":1},{"t":0.23,"x":1},{"t":0.241,"x":1},{"t":0.245,"x":1},{"t":0.251,"x":1},{"t":0.257,"x":1},{"t":0.262,"x":1},{"t":0.27,"x":1},{"t":0.273,"x":1},{"t":0.276,"x":1},{"t":0.28,"x":1},{"t":0.285,"x":1},{"t":0.29,"x":1},{"t":0.295,"x":1},{"t":0.298,"x":1},{"t":0.3,"x":1},{"t":0.305,"x":1},{"t":0.31,"x":1},{"t":0.317,"x":1},{"t":0.32,"x":1},{"t":0.324,"x":1},{"t":0.329,"x":1},{"t":0.332,"x":1},{"t":0.335,"x":1},{"t":0.339,"x":1},{"t":0.341,"x":1},{"t":0.344,"x":1},{"t":0.345,"x":1},{"t":0.349,"x":1},{"t":0.352,"x":1},{"t":0.354,"x":1},{"t":0.36,"x":1},{"t":0.366,"x":1},{"t":0.372,"x":1},{"t":0.379,"x":1},{"t":0.386,"x":1},{"t":0.391,"x":1},{"t":0.393,"x":1},{"t":0.395,"x":1},{"t":0.397,"x":1},{"t":0.401,"x":1},{"t":0.404,"x":1},{"t":0.408,"x":1},{"t":0.41,"x":1},{"t":0.423,"x":1},{"t":0.43,"x":1},{"t":0.435,"x":1},{"t":0.438,"x":1},{"t":0.442,"x":1},{"t":0.446,"x":1},{"t":0.45,"x":1},{"t":0.453,"x":1},{"t":0.46,"x":1},{"t":0.465,"x":1},{"t":0.469,"x":1},{"t":0.474,"x":1},{"t":0.477,"x":1},{"t":0.482,"x":1},{"t":0.485,"x":1},{"t":0.487,"x":1},{"t":0.49,"x":1},{"t":0.492,"x":1},{"t":0.499,"x":1},{"t":0.501,"x":1},{"t":0.506,"x":1},{"t":0.51,"x":1},{"t":0.514,"x":1},{"t":0.517,"x":1},{"t":0.519,"x":1},{"t":0.523,"x":1},{"t":0.526,"x":1},{"t":0.528,"x":1},{"t":0.536,"x":1},{"t":0.543,"x":1},{"t":0.546,"x":1},{"t":0.55,"x":1},{"t":0.553,"x":1},{"t":0.56,"x":1},{"t":0.563,"x":1},{"t":0.568,"x":1},{"t":0.571,"x":1},{"t":0.575,"x":1},{"t":0.58,"x":1},{"t":0.585,"x":1},{"t":0.592,"x":1},{"t":0.596,"x":1},{"t":0.6,"x":1},{"t":0.607,"x":1},{"t":0.612,"x":1},{"t":0.619,"x":1},{"t":0.641,"x":1},{"t":0.644,"x":1},{"t":0.646,"x":1},{"t":0.649,"x":1},{"t":0.651,"x":1},{"t":0.655,"x":1},{"t":0.656,"x":1},{"t":0.659,"x":1},{"t":0.661,"x":1},{"t":0.662,"x":1},{"t":0.664,"x":1},{"t":0.668,"x":1},{"t":0.671,"x":1},{"t":0.673,"x":1},{"t":0.68,"x":1},{"t":0.686,"x":1},{"t":0.693,"x":1},{"t":0.7,"x":1},{"t":0.705,"x":1},{"t":0.71,"x":1},{"t":0.715,"x":1},{"t":0.72,"x":1},{"t":0.722,"x":1},{"t":0.725,"x":1},{"t":0.73,"x":1},{"t":0.732,"x":1},{"t":0.735,"x":1},{"t":0.737,"x":1},{"t":0.74,"x":1},{"t":0.742,"x":1},{"t":0.745,"x":1},{"t":0.748,"x":1},{"t":0.75,"x":1},{"t":0.754,"x":1},{"t":0.758,"x":1},{"t":0.764,"x":1},{"t":0.77,"x":1},{"t":0.779,"x":1},{"t":0.786,"x":1},{"t":0.79,"x":1},{"t":0.794,"x":1},{"t":0.8,"x":1},{"t":0.804,"x":1},{"t":0.809,"x":1},{"t":0.812,"x":1},{"t":0.814,"x":1},{"t":0.818,"x":1},{"t":0.82,"x":1},{"t":0.823,"x":1},{"t":0.826,"x":1},{"t":0.828,"x":1},{"t":0.83,"x":1},{"t":0.833,"x":1},{"t":0.835,"x":1},{"t":0.838,"x":1},{"t":0.84,"x":1},{"t":0.843,"x":1},{"t":0.846,"x":1},{"t":0.848,"x":1},{"t":0.852,"x":1},{"t":0.855,"x":1},{"t":0.86,"x":1},{"t":0.865,"x":1},{"t":0.872,"x":1},{"t":0.877,"x":1},{"t":0.882,"x":1},{"t":0.887,"x":1},{"t":0.89,"x":1},{"t":0.892,"x":1},{"t":0.897,"x":1},{"t":0.9,"x":1},{"t":0.902,"x":1},{"t":0.907,"x":1},{"t":0.91,"x":1},{"t":0.912,"x":1},{"t":0.914,"x":1},{"t":0.917,"x":1},{"t":0.92,"x":1},{"t":0.922,"x":1},{"t":0.926,"x":1},{"t":0.931,"x":1},{"t":0.934,"x":1},{"t":0.936,"x":1},{"t":0.94,"x":1},{"t":0.944,"x":1},{"t":0.953,"x":1},{"t":0.957,"x":1},{"t":0.961,"x":1},{"t":0.968,"x":1},{"t":0.973,"x":1},{"t":0.98,"x":1},{"t":0.985,"x":1},{"t":0.99,"x":1},{"t":0.995,"x":1},{"t":1.0,"x":1},
{"t":0.0,"x":-1},{"t":0.002,"x":-1},{"t":0.005,"x":-1},{"t":0.013,"x":-1},{"t":0.022,"x":-1},{"t":0.025,"x":-1},{"t":0.027,"x":-1},{"t":0.03,"x":-1},{"t":0.032,"x":-1},{"t":0.037,"x":-1},{"t":0.042,"x":-1},{"t":0.049,"x":-1},{"t":0.054,"x":-1},{"t":0.058,"x":-1},{"t":0.064,"x":-1},{"t":0.067,"x":-1},{"t":0.069,"x":-1},{"t":0.072,"x":-1},{"t":0.074,"x":-1},{"t":0.079,"x":-1},{"t":0.081,"x":-1},{"t":0.084,"x":-1},{"t":0.087,"x":-1},{"t":0.089,"x":-1},{"t":0.094,"x":-1},{"t":0.097,"x":-1},{"t":0.099,"x":-1},{"t":0.103,"x":-1},{"t":0.106,"x":-1},{"t":0.108,"x":-1},{"t":0.111,"x":-1},{"t":0.113,"x":-1},{"t":0.118,"x":-1},{"t":0.123,"x":-1},{"t":0.133,"x":-1},{"t":0.136,"x":-1},{"t":0.138,"x":-1},{"t":0.143,"x":-1},{"t":0.146,"x":-1},{"t":0.148,"x":-1},{"t":0.152,"x":-1},{"t":0.155,"x":-1},{"t":0.157,"x":-1},{"t":0.162,"x":-1},{"t":0.165,"x":-1},{"t":0.167,"x":-1},{"t":0.172,"x":-1},{"t":0.175,"x":-1},{"t":0.177,"x":-1},{"t":0.182,"x":-1},{"t":0.185,"x":-1},{"t":0.187,"x":-1},{"t":0.192,"x":-1},{"t":0.195,"x":-1},{"t":0.197,"x":-1},{"t":0.202,"x":-1},{"t":0.206,"x":-1},{"t":0.211,"x":-1},{"t":0.216,"x":-1},{"t":0.219,"x":-1},{"t":0.221,"x":-1},{"t":0.226,"x":-1},{"t":0.229,"x":-1},{"t":0.231,"x":-1},{"t":0.236,"x":-1},{"t":0.239,"x":-1},{"t":0.241,"x":-1},{"t":0.261,"x":-1},{"t":0.264,"x":-1},{"t":0.266,"x":-1},{"t":0.27,"x":-1},{"t":0.273,"x":-1},{"t":0.275,"x":-1},{"t":0.28,"x":-1},{"t":0.283,"x":-1},{"t":0.285,"x":-1},{"t":0.29,"x":-1},{"t":0.293,"x":-1},{"t":0.295,"x":-1},{"t":0.3,"x":-1},{"t":0.303,"x":-1},{"t":0.305,"x":-1},{"t":0.31,"x":-1},{"t":0.313,"x":-1},{"t":0.315,"x":-1},{"t":0.32,"x":-1},{"t":0.322,"x":-1},{"t":0.324,"x":-1},{"t":0.329,"x":-1},{"t":0.332,"x":-1},{"t":0.334,"x":-1},{"t":0.339,"x":-1},{"t":0.344,"x":-1},{"t":0.349,"x":-1},{"t":0.354,"x":-1},{"t":0.357,"x":-1},{"t":0.359,"x":-1},{"t":0.364,"x":-1},{"t":0.367,"x":-1},{"t":0.369,"x":-1},{"t":0.374,"x":-1},{"t":0.377,"x":-1},{"t":0.379,"x":-1},{"t":0.383,"x":-1},{"t":0.386,"x":-1},{"t":0.388,"x":-1},{"t":0.393,"x":-1},{"t":0.396,"x":-1},{"t":0.398,"x":-1},{"t":0.408,"x":-1},{"t":0.413,"x":-1},{"t":0.418,"x":-1},{"t":0.423,"x":-1},{"t":0.442,"x":-1},{"t":0.445,"x":-1},{"t":0.447,"x":-1},{"t":0.452,"x":-1},{"t":0.455,"x":-1},{"t":0.457,"x":-1},{"t":0.462,"x":-1},{"t":0.465,"x":-1},{"t":0.467,"x":-1},{"t":0.472,"x":-1},{"t":0.477,"x":-1},{"t":0.482,"x":-1},{"t":0.485,"x":-1},{"t":0.487,"x":-1},{"t":0.491,"x":-1},{"t":0.495,"x":-1},{"t":0.499,"x":-1},{"t":0.502,"x":-1},{"t":0.504,"x":-1},{"t":0.506,"x":-1},{"t":0.511,"x":-1},{"t":0.514,"x":-1},{"t":0.516,"x":-1},{"t":0.521,"x":-1},{"t":0.526,"x":-1},{"t":0.533,"x":-1},{"t":0.538,"x":-1},{"t":0.541,"x":-1},{"t":0.543,"x":-1},{"t":0.548,"x":-1},{"t":0.565,"x":-1},{"t":0.57,"x":-1},{"t":0.575,"x":-1},{"t":0.585,"x":-1},{"t":0.588,"x":-1},{"t":0.59,"x":-1},{"t":0.595,"x":-1},{"t":0.598,"x":-1},{"t":0.6,"x":-1},{"t":0.605,"x":-1},{"t":0.607,"x":-1},{"t":0.609,"x":-1},{"t":0.614,"x":-1},{"t":0.617,"x":-1},{"t":0.619,"x":-1},{"t":0.624,"x":-1},{"t":0.627,"x":-1},{"t":0.629,"x":-1},{"t":0.634,"x":-1},{"t":0.644,"x":-1},{"t":0.654,"x":-1},{"t":0.664,"x":-1},{"t":0.668,"x":-1},{"t":0.673,"x":-1},{"t":0.683,"x":-1},{"t":0.687,"x":-1},{"t":0.691,"x":-1},{"t":0.694,"x":-1},{"t":0.696,"x":-1},{"t":0.7,"x":-1},{"t":0.703,"x":-1},{"t":0.705,"x":-1},{"t":0.71,"x":-1},{"t":0.713,"x":-1},{"t":0.715,"x":-1},{"t":0.72,"x":-1},{"t":0.723,"x":-1},{"t":0.725,"x":-1},{"t":0.73,"x":-1},{"t":0.733,"x":-1},{"t":0.735,"x":-1},{"t":0.74,"x":-1},{"t":0.743,"x":-1},{"t":0.745,"x":-1},{"t":0.75,"x":-1},{"t":0.752,"x":-1},{"t":0.755,"x":-1},{"t":0.759,"x":-1},{"t":0.762,"x":-1},{"t":0.764,"x":-1},{"t":0.769,"x":-1},{"t":0.772,"x":-1},{"t":0.774,"x":-1},{"t":0.779,"x":-1},{"t":0.782,"x":-1},{"t":0.784,"x":-1},{"t":0.789,"x":-1},{"t":0.8,"x":-1},{"t":0.813,"x":-1},{"t":0.816,"x":-1},{"t":0.818,"x":-1},{"t":0.823,"x":-1},{"t":0.826,"x":-1},{"t":0.828,"x":-1},{"t":0.833,"x":-1},{"t":0.836,"x":-1},{"t":0.838,"x":-1},{"t":0.843,"x":-1},{"t":0.846,"x":-1},{"t":0.848,"x":-1},{"t":0.853,"x":-1},{"t":0.856,"x":-1},{"t":0.858,"x":-1},{"t":0.863,"x":-1},{"t":0.867,"x":-1},{"t":0.87,"x":-1},{"t":0.872,"x":-1},{"t":0.877,"x":-1},{"t":0.882,"x":-1},{"t":0.887,"x":-1},{"t":0.892,"x":-1},{"t":0.895,"x":-1},{"t":0.897,"x":-1},{"t":0.902,"x":-1},{"t":0.907,"x":-1},{"t":0.912,"x":-1},{"t":0.917,"x":-1},{"t":0.921,"x":-1},{"t":0.924,"x":-1},{"t":0.926,"x":-1},{"t":0.931,"x":-1},{"t":0.934,"x":-1},{"t":0.936,"x":-1},{"t":0.941,"x":-1},{"t":0.944,"x":-1},{"t":0.946,"x":-1},{"t":0.951,"x":-1},{"t":0.954,"x":-1},{"t":0.956,"x":-1},{"t":0.961,"x":-1},{"t":0.963,"x":-1},{"t":0.966,"x":-1},{"t":0.978,"x":-1},{"t":0.985,"x":-1},{"t":0.995,"x":-1},
{"t":0,"x":1.0},{"t":0,"x":0.995},{"t":0,"x":0.99},{"t":0,"x":0.98},{"t":0,"x":0.975},{"t":0,"x":0.968},{"t":0,"x":0.962},{"t":0,"x":0.955},{"t":0,"x":0.948},{"t":0,"x":0.942},{"t":0,"x":0.937},{"t":0,"x":0.93},{"t":0,"x":0.925},{"t":0,"x":0.918},{"t":0,"x":0.914},{"t":0,"x":0.905},{"t":0,"x":0.899},{"t":0,"x":0.893},{"t":0,"x":0.886},{"t":0,"x":0.88},{"t":0,"x":0.875},{"t":0,"x":0.872},{"t":0,"x":0.866},{"t":0,"x":0.86},{"t":0,"x":0.851},{"t":0,"x":0.844},{"t":0,"x":0.838},{"t":0,"x":0.832},{"t":0,"x":0.826},{"t":0,"x":0.82},{"t":0,"x":0.815},{"t":0,"x":0.81},{"t":0,"x":0.806},{"t":0,"x":0.8},{"t":0,"x":0.795},{"t":0,"x":0.79},{"t":0,"x":0.781},{"t":0,"x":0.776},{"t":0,"x":0.772},{"t":0,"x":0.766},{"t":0,"x":0.761},{"t":0,"x":0.754},{"t":0,"x":0.748},{"t":0,"x":0.742},{"t":0,"x":0.735},{"t":0,"x":0.73},{"t":0,"x":0.724},{"t":0,"x":0.72},{"t":0,"x":0.716},{"t":0,"x":0.71},{"t":0,"x":0.704},{"t":0,"x":0.7},{"t":0,"x":0.695},{"t":0,"x":0.69},{"t":0,"x":0.682},{"t":0,"x":0.677},{"t":0,"x":0.672},{"t":0,"x":0.668},{"t":0,"x":0.659},{"t":0,"x":0.655},{"t":0,"x":0.65},{"t":0,"x":0.643},{"t":0,"x":0.637},{"t":0,"x":0.632},{"t":0,"x":0.625},{"t":0,"x":0.62},{"t":0,"x":0.615},{"t":0,"x":0.611},{"t":0,"x":0.605},{"t":0,"x":0.6},{"t":0,"x":0.594},{"t":0,"x":0.588},{"t":0,"x":0.58},{"t":0,"x":0.575},{"t":0,"x":0.57},{"t":0,"x":0.566},{"t":0,"x":0.558},{"t":0,"x":0.551},{"t":0,"x":0.545},{"t":0,"x":0.54},{"t":0,"x":0.532},{"t":0,"x":0.526},{"t":0,"x":0.52},{"t":0,"x":0.514},{"t":0,"x":0.506},{"t":0,"x":0.5},{"t":0,"x":0.495},{"t":0,"x":0.49},{"t":0,"x":0.486},{"t":0,"x":0.48},{"t":0,"x":0.474},{"t":0,"x":0.468},{"t":0,"x":0.462},{"t":0,"x":0.455},{"t":0,"x":0.45},{"t":0,"x":0.445},{"t":0,"x":0.441},{"t":0,"x":0.434},{"t":0,"x":0.428},{"t":0,"x":0.422},{"t":0,"x":0.417},{"t":0,"x":0.41},{"t":0,"x":0.405},{"t":0,"x":0.4},{"t":0,"x":0.396},{"t":0,"x":0.39},{"t":0,"x":0.385},{"t":0,"x":0.381},{"t":0,"x":0.375},{"t":0,"x":0.37},{"t":0,"x":0.365},{"t":0,"x":0.361},{"t":0,"x":0.354},{"t":0,"x":0.348},{"t":0,"x":0.342},{"t":0,"x":0.337},{"t":0,"x":0.33},{"t":0,"x":0.325},{"t":0,"x":0.32},{"t":0,"x":0.314},{"t":0,"x":0.31},{"t":0,"x":0.305},{"t":0,"x":0.298},{"t":0,"x":0.292},{"t":0,"x":0.286},{"t":0,"x":0.281},{"t":0,"x":0.275},{"t":0,"x":0.27},{"t":0,"x":0.264},{"t":0,"x":0.258},{"t":0,"x":0.252},{"t":0,"x":0.247},{"t":0,"x":0.241},{"t":0,"x":0.236},{"t":0,"x":0.23},{"t":0,"x":0.224},{"t":0,"x":0.218},{"t":0,"x":0.213},{"t":0,"x":0.207},{"t":0,"x":0.201},{"t":0,"x":0.195},{"t":0,"x":0.19},{"t":0,"x":0.184},{"t":0,"x":0.178},{"t":0,"x":0.173},{"t":0,"x":0.169},{"t":0,"x":0.16},{"t":0,"x":0.156},{"t":0,"x":0.15},{"t":0,"x":0.144},{"t":0,"x":0.139},{"t":0,"x":0.133},{"t":0,"x":0.127},{"t":0,"x":0.121},{"t":0,"x":0.116},{"t":0,"x":0.112},{"t":0,"x":0.105},{"t":0,"x":0.1},{"t":0,"x":0.094},{"t":0,"x":0.088},{"t":0,"x":0.082},{"t":0,"x":0.077},{"t":0,"x":0.071},{"t":0,"x":0.065},{"t":0,"x":0.06},{"t":0,"x":0.054},{"t":0,"x":0.05},{"t":0,"x":0.041},{"t":0,"x":0.037},{"t":0,"x":0.032},{"t":0,"x":0.026},{"t":0,"x":0.02},{"t":0,"x":0.014},{"t":0,"x":0.007},{"t":0,"x":0.001},{"t":0,"x":-0.004},{"t":0,"x":-0.01},{"t":0,"x":-0.015},{"t":0,"x":-0.021},{"t":0,"x":-0.027},{"t":0,"x":-0.033},{"t":0,"x":-0.039},{"t":0,"x":-0.044},{"t":0,"x":-0.048},{"t":0,"x":-0.054},{"t":0,"x":-0.06},{"t":0,"x":-0.066},{"t":0,"x":-0.072},{"t":0,"x":-0.078},{"t":0,"x":-0.083},{"t":0,"x":-0.089},{"t":0,"x":-0.094},{"t":0,"x":-0.1},{"t":0,"x":-0.106},{"t":0,"x":-0.112},{"t":0,"x":-0.118},{"t":0,"x":-0.122},{"t":0,"x":-0.127},{"t":0,"x":-0.133},{"t":0,"x":-0.139},{"t":0,"x":-0.145},{"t":0,"x":-0.151},{"t":0,"x":-0.156},{"t":0,"x":-0.162},{"t":0,"x":-0.167},{"t":0,"x":-0.173},{"t":0,"x":-0.18},{"t":0,"x":-0.186},{"t":0,"x":-0.191},{"t":0,"x":-0.197},{"t":0,"x":-0.2},{"t":0,"x":-0.208},{"t":0,"x":-0.214},{"t":0,"x":-0.219},{"t":0,"x":-0.225},{"t":0,"x":-0.231},{"t":0,"x":-0.236},{"t":0,"x":-0.242},{"t":0,"x":-0.248},{"t":0,"x":-0.254},{"t":0,"x":-0.26},{"t":0,"x":-0.265},{"t":0,"x":-0.27},{"t":0,"x":-0.276},{"t":0,"x":-0.282},{"t":0,"x":-0.288},{"t":0,"x":-0.294},{"t":0,"x":-0.3},{"t":0,"x":-0.305},{"t":0,"x":-0.311},{"t":0,"x":-0.317},{"t":0,"x":-0.322},{"t":0,"x":-0.328},{"t":0,"x":-0.334},{"t":0,"x":-0.34},{"t":0,"x":-0.345},{"t":0,"x":-0.35},{"t":0,"x":-0.356},{"t":0,"x":-0.362},{"t":0,"x":-0.369},{"t":0,"x":-0.374},{"t":0,"x":-0.38},{"t":0,"x":-0.386},{"t":0,"x":-0.391},{"t":0,"x":-0.397},{"t":0,"x":-0.402},{"t":0,"x":-0.41},{"t":0,"x":-0.414},{"t":0,"x":-0.42},{"t":0,"x":-0.426},{"t":0,"x":-0.431},{"t":0,"x":-0.437},{"t":0,"x":-0.443},{"t":0,"x":-0.448},{"t":0,"x":-0.455},{"t":0,"x":-0.46},{"t":0,"x":-0.465},{"t":0,"x":-0.471},{"t":0,"x":-0.477},{"t":0,"x":-0.483},{"t":0,"x":-0.489},{"t":0,"x":-0.495},{"t":0,"x":-0.5},{"t":0,"x":-0.506},{"t":0,"x":-0.511},{"t":0,"x":-0.517},{"t":0,"x":-0.522},{"t":0,"x":-0.528},{"t":0,"x":-0.534},{"t":0,"x":-0.54},{"t":0,"x":-0.545},{"t":0,"x":-0.552},{"t":0,"x":-0.557},{"t":0,"x":-0.563},{"t":0,"x":-0.568},{"t":0,"x":-0.574},{"t":0,"x":-0.58},{"t":0,"x":-0.586},{"t":0,"x":-0.592},{"t":0,"x":-0.598},{"t":0,"x":-0.6},{"t":0,"x":-0.609},{"t":0,"x":-0.615},{"t":0,"x":-0.62},{"t":0,"x":-0.626},{"t":0,"x":-0.632},{"t":0,"x":-0.637},{"t":0,"x":-0.643},{"t":0,"x":-0.65},{"t":0,"x":-0.654},{"t":0,"x":-0.66},{"t":0,"x":-0.666},{"t":0,"x":-0.672},{"t":0,"x":-0.678},{"t":0,"x":-0.684},{"t":0,"x":-0.689},{"t":0,"x":-0.695},{"t":0,"x":-0.7},{"t":0,"x":-0.705},{"t":0,"x":-0.712},{"t":0,"x":-0.718},{"t":0,"x":-0.724},{"t":0,"x":-0.73},{"t":0,"x":-0.735},{"t":0,"x":-0.741},{"t":0,"x":-0.746},{"t":0,"x":-0.752},{"t":0,"x":-0.758},{"t":0,"x":-0.763},{"t":0,"x":-0.769},{"t":0,"x":-0.775},{"t":0,"x":-0.78},{"t":0,"x":-0.786},{"t":0,"x":-0.792},{"t":0,"x":-0.798},{"t":0,"x":-0.804},{"t":0,"x":-0.81},{"t":0,"x":-0.815},{"t":0,"x":-0.821},{"t":0,"x":-0.826},{"t":0,"x":-0.832},{"t":0,"x":-0.838},{"t":0,"x":-0.843},{"t":0,"x":-0.849},{"t":0,"x":-0.855},{"t":0,"x":-0.861},{"t":0,"x":-0.866},{"t":0,"x":-0.872},{"t":0,"x":-0.878},{"t":0,"x":-0.884},{"t":0,"x":-0.89},{"t":0,"x":-0.895},{"t":0,"x":-0.9},{"t":0,"x":-0.906},{"t":0,"x":-0.912},{"t":0,"x":-0.918},{"t":0,"x":-0.924},{"t":0,"x":-0.93},{"t":0,"x":-0.935},{"t":0,"x":-0.941},{"t":0,"x":-0.947},{"t":0,"x":-0.952},{"t":0,"x":-0.958},{"t":0,"x":-0.964},{"t":0,"x":-0.97},{"t":0,"x":-0.975},{"t":0,"x":-0.981},{"t":0,"x":-0.987},{"t":0,"x":-0.993},{"t":0,"x":-1.0}
],
"D":[
{"t":0.026,"x":0.452},{"t":0.032,"x":0.446},{"t":0.041,"x":0.455},{"t":0.048,"x":0.441},{"t":0.058,"x":0.448},{"t":0.015,"x":0.443},{"t":0.064,"x":0.462},
{"t":0.004,"x":0.43},{"t":0.011,"x":0.424},{"t":0.019,"x":0.436},{"t":0.023,"x":0.428},{"t":0.037,"x":0.421},{"t":0.044,"x":0.433},{"t":0.052,"x":0.426},{"t":0.061,"x":0.438},{"t":0.07,"x":0.425},
{"t":0.002,"x":0.41},{"t":0.008,"x":0.418},{"t":0.014,"x":0.405},{"t":0.02,"x":0.414},{"t":0.028,"x":0.402},{"t":0.034,"x":0.416},{"t":0.04,"x":0.408},{"t":0.046,"x":0.412},{"t":0.055,"x":0.404},{"t":0.068,"x":0.415},{"t":0.075,"x":0.401},
{"t":0.003,"x":0.386},{"t":0.009,"x":0.394},{"t":0.016,"x":0.398},{"t":0.022,"x":0.383},{"t":0.027,"x":0.391},{"t":0.031,"x":0.381},{"t":0.038,"x":0.397},{"t":0.043,"x":0.388},{"t":0.05,"x":0.392},{"t":0.057,"x":0.384},{"t":0.062,"x":0.396},
{"t":0.001,"x":0.372},{"t":0.006,"x":0.365},{"t":0.012,"x":0.378},{"t":0.017,"x":0.368},{"t":0.024,"x":0.375},{"t":0.029,"x":0.362},{"t":0.033,"x":0.371},{"t":0.039,"x":0.366},{"t":0.047,"x":0.377},{"t":0.053,"x":0.369},{"t":0.066,"x":0.372},
{"t":0.002,"x":0.352},{"t":0.005,"x":0.344},{"t":0.01,"x":0.357},{"t":0.015,"x":0.348},{"t":0.021,"x":0.341},{"t":0.026,"x":0.355},{"t":0.03,"x":0.346},{"t":0.036,"x":0.351},{"t":0.042,"x":0.342},{"t":0.049,"x":0.356},
{"t":0.003,"x":0.331},{"t":0.007,"x":0.338},{"t":0.013,"x":0.326},{"t":0.018,"x":0.335},{"t":0.023,"x":0.322},{"t":0.028,"x":0.333},{"t":0.034,"x":0.327},{"t":0.04,"x":0.336},{"t":0.045,"x":0.324},{"t":0.058,"x":0.33},
{"t":0.001,"x":0.312},{"t":0.006,"x":0.305},{"t":0.011,"x":0.318},{"t":0.016,"x":0.302},{"t":0.02,"x":0.311},{"t":0.025,"x":0.316},{"t":0.031,"x":0.306},{"t":0.037,"x":0.313},{"t":0.044,"x":0.301},{"t":0.051,"x":0.309},
{"t":0.002,"x":0.292},{"t":0.008,"x":0.284},{"t":0.012,"x":0.297},{"t":0.019,"x":0.288},{"t":0.024,"x":0.281},{"t":0.029,"x":0.295},{"t":0.035,"x":0.286},{"t":0.041,"x":0.291},{"t":0.048,"x":0.283},{"t":0.06,"x":0.296},
{"t":0.004,"x":0.273},{"t":0.009,"x":0.266},{"t":0.014,"x":0.278},{"t":0.018,"x":0.261},{"t":0.022,"x":0.271},{"t":0.027,"x":0.264},{"t":0.032,"x":0.276},{"t":0.038,"x":0.268},{"t":0.043,"x":0.262},{"t":0.054,"x":0.274},
{"t":0.001,"x":0.252},{"t":0.006,"x":0.245},{"t":0.01,"x":0.258},{"t":0.015,"x":0.241},{"t":0.021,"x":0.249},{"t":0.026,"x":0.256},{"t":0.03,"x":0.243},{"t":0.036,"x":0.253},{"t":0.046,"x":0.247},{"t":0.064,"x":0.251},
{"t":0.003,"x":0.232},{"t":0.008,"x":0.238},{"t":0.013,"x":0.224},{"t":0.017,"x":0.235},{"t":0.023,"x":0.227},{"t":0.028,"x":0.221},{"t":0.033,"x":0.234},{"t":0.039,"x":0.228},{"t":0.05,"x":0.236},
{"t":0.002,"x":0.211},{"t":0.007,"x":0.217},{"t":0.011,"x":0.203},{"t":0.016,"x":0.214},{"t":0.02,"x":0.206},{"t":0.025,"x":0.219},{"t":0.032,"x":0.209},{"t":0.042,"x":0.202},{"t":0.055,"x":0.215},
{"t":0.004,"x":0.194},{"t":0.009,"x":0.186},{"t":0.014,"x":0.198},{"t":0.019,"x":0.183},{"t":0.024,"x":0.191},{"t":0.03,"x":0.188},{"t":0.037,"x":0.196},
{"t":0.003,"x":0.172},{"t":0.008,"x":0.166},{"t":0.012,"x":0.177},{"t":0.018,"x":0.163},{"t":0.023,"x":0.174},{"t":0.029,"x":0.168},{"t":0.041,"x":0.161},
{"t":0.002,"x":0.152},{"t":0.007,"x":0.145},{"t":0.013,"x":0.157},{"t":0.02,"x":0.148},{"t":0.027,"x":0.141},
{"t":0.004,"x":0.134},{"t":0.011,"x":0.125},{"t":0.019,"x":0.138},{"t":0.024,"x":0.118},{"t":0.001,"x":0.108},
{"t":0.005,"x":0.448},{"t":0.012,"x":0.44},{"t":0.018,"x":0.452},{"t":0.029,"x":0.437},{"t":0.036,"x":0.43},{"t":0.053,"x":0.44},
{"t":0.006,"x":0.423},{"t":0.017,"x":0.419},{"t":0.026,"x":0.426},{"t":0.031,"x":0.411},{"t":0.042,"x":0.4},{"t":0.049,"x":0.419},
{"t":0.007,"x":0.403},{"t":0.013,"x":0.389},{"t":0.019,"x":0.377},{"t":0.025,"x":0.397},{"t":0.035,"x":0.392},{"t":0.045,"x":0.381},
{"t":0.004,"x":0.361},{"t":0.009,"x":0.347},{"t":0.015,"x":0.359},{"t":0.022,"x":0.354},{"t":0.027,"x":0.368},{"t":0.035,"x":0.339},{"t":0.044,"x":0.361},
{"t":0.005,"x":0.324},{"t":0.01,"x":0.331},{"t":0.016,"x":0.318},{"t":0.021,"x":0.329},{"t":0.026,"x":0.309},{"t":0.032,"x":0.319},{"t":0.039,"x":0.303},
{"t":0.004,"x":0.299},{"t":0.009,"x":0.3},{"t":0.015,"x":0.29},{"t":0.022,"x":0.293},{"t":0.027,"x":0.279},{"t":0.033,"x":0.297},{"t":0.045,"x":0.277},
{"t":0.007,"x":0.279},{"t":0.012,"x":0.259},{"t":0.017,"x":0.27},{"t":0.024,"x":0.259},{"t":0.031,"x":0.262},{"t":0.04,"x":0.256},
{"t":0.005,"x":0.235},{"t":0.01,"x":0.229},{"t":0.019,"x":0.246},{"t":0.025,"x":0.239},{"t":0.035,"x":0.222},{"t":0.044,"x":0.231},
{"t":0.006,"x":0.205},{"t":0.013,"x":0.212},{"t":0.022,"x":0.198},{"t":0.027,"x":0.207},{"t":0.034,"x":0.184},
{"t":0.006,"x":0.181},{"t":0.016,"x":0.189},{"t":0.021,"x":0.165},{"t":0.01,"x":0.158},{"t":0.016,"x":0.134},
{"t":0.1,"x":0.472},{"t":0.087,"x":0.396},{"t":0.109,"x":0.378},{"t":0.13,"x":0.412},{"t":0.166,"x":0.43},{"t":0.167,"x":0.403},{"t":0.185,"x":0.423},{"t":0.207,"x":0.399},{"t":0.155,"x":0.361},{"t":0.219,"x":0.337},{"t":0.296,"x":0.422},{"t":0.273,"x":0.232},
{"t":0.098,"x":0.226},{"t":0.076,"x":0.216},{"t":0.061,"x":0.22},{"t":0.069,"x":0.2},{"t":0.071,"x":0.168},{"t":0.066,"x":0.168},{"t":0.059,"x":0.168},{"t":0.051,"x":0.144},{"t":0.035,"x":0.147},{"t":0.026,"x":0.129},{"t":0.017,"x":0.14},{"t":0.005,"x":0.118},{"t":0.003,"x":0.1},
{"t":0.058,"x":0.359},{"t":0.07,"x":0.35},{"t":0.071,"x":0.329},{"t":0.064,"x":0.342},{"t":0.089,"x":0.325},{"t":0.083,"x":0.307},{"t":0.077,"x":0.286},{"t":0.071,"x":0.277},{"t":0.065,"x":0.269},{"t":0.082,"x":0.259},{"t":0.052,"x":0.282},{"t":0.049,"x":0.264},{"t":0.106,"x":0.268},{"t":0.065,"x":0.374},
{"t":0.004,"x":0.583},{"t":0.001,"x":0.505},{"t":0.04,"x":0.47},{"t":0.047,"x":0.468},{"t":0.053,"x":0.466},
{"t":0.055,"x":0.994},{"t":0.049,"x":0.935},{"t":0.043,"x":0.917},{"t":0.082,"x":0.909},
{"t":0.806,"x":0.381},{"t":0.846,"x":0.381},{"t":0.033,"x":0.012},{"t":0.003,"x":0.01},
{"t":0.0645,"x":-0.104},{"t":0.0119,"x":-0.193},{"t":0.0262,"x":-0.207},{"t":0.0576,"x":-0.168},{"t":0.0532,"x":-0.19},{"t":0.0454,"x":-0.194},{"t":0.0424,"x":-0.214},{"t":0.0522,"x":-0.214},{"t":0.0547,"x":-0.208},{"t":0.0124,"x":-0.236},{"t":0.0139,"x":-0.246},{"t":0.0193,"x":-0.237},{"t":0.0164,"x":-0.255},{"t":0.0286,"x":-0.246},{"t":0.0311,"x":-0.256},{"t":0.008,"x":-0.264},{"t":0.006,"x":-0.269},{"t":0.0257,"x":-0.272},{"t":0.0331,"x":-0.283},{"t":0.0375,"x":-0.282},{"t":0.0424,"x":-0.282},{"t":0.0419,"x":-0.259},{"t":0.0419,"x":-0.272},{"t":0.0105,"x":-0.287},{"t":0.0183,"x":-0.295},{"t":0.0252,"x":-0.291},{"t":0.0252,"x":-0.298},{"t":0.0159,"x":-0.298},{"t":0.0031,"x":-0.307},{"t":0.0001,"x":-0.318},{"t":0.0115,"x":-0.314},{"t":0.0326,"x":-0.302},{"t":0.037,"x":-0.304},{"t":0.0419,"x":-0.303},{"t":0.0424,"x":-0.313},{"t":0.0321,"x":-0.33},{"t":0.039,"x":-0.341},{"t":0.0463,"x":-0.354},{"t":0.0527,"x":-0.357},{"t":0.0596,"x":-0.36},
{"t":0.062,"x":-0.227},{"t":0.0655,"x":-0.224},{"t":0.068,"x":-0.223},{"t":0.0694,"x":-0.241},{"t":0.0729,"x":-0.242},{"t":0.063,"x":-0.255},{"t":0.067,"x":-0.262},{"t":0.0768,"x":-0.263},{"t":0.0817,"x":-0.27},{"t":0.0606,"x":-0.276},{"t":0.0709,"x":-0.277},{"t":0.0645,"x":-0.295},{"t":0.0694,"x":-0.298},{"t":0.068,"x":-0.308},{"t":0.0866,"x":-0.304},{"t":0.0694,"x":-0.332},{"t":0.064,"x":-0.344},{"t":0.0562,"x":-0.329},{"t":0.0699,"x":-0.36},{"t":0.0645,"x":-0.379},{"t":0.0783,"x":-0.371},{"t":0.0802,"x":-0.378},{"t":0.0842,"x":-0.371},{"t":0.0744,"x":-0.318},{"t":0.068,"x":-0.32},{"t":0.0852,"x":-0.334},{"t":0.0945,"x":-0.332},{"t":0.1043,"x":-0.339},{"t":0.1068,"x":-0.357},{"t":0.1009,"x":-0.282},{"t":0.1087,"x":-0.281},{"t":0.1122,"x":-0.268},{"t":0.1171,"x":-0.274},{"t":0.1191,"x":-0.285},{"t":0.1141,"x":-0.278},{"t":0.1156,"x":-0.224},{"t":0.1225,"x":-0.245},{"t":0.1363,"x":-0.243},{"t":0.1289,"x":-0.307},{"t":0.1343,"x":-0.304},{"t":0.1254,"x":-0.341},{"t":0.1259,"x":-0.352},{"t":0.1372,"x":-0.367},{"t":0.1372,"x":-0.388},{"t":0.1136,"x":-0.361},{"t":0.1019,"x":-0.398},{"t":0.0802,"x":-0.41},{"t":0.0911,"x":-0.396},{"t":0.067,"x":-0.429},{"t":0.0498,"x":-0.415},{"t":0.038,"x":-0.411},{"t":0.0341,"x":-0.423},{"t":0.0454,"x":-0.33},{"t":0.0591,"x":-0.282},{"t":0.0468,"x":-0.363},{"t":0.0586,"x":-0.375},{"t":0.0837,"x":-0.312},
{"t":0.1343,"x":-0.413},{"t":0.151,"x":-0.42},{"t":0.1584,"x":-0.272},{"t":0.152,"x":-0.329},{"t":0.154,"x":-0.339},{"t":0.1756,"x":-0.407},{"t":0.1756,"x":-0.418},{"t":0.1928,"x":-0.405},{"t":0.1967,"x":-0.388},{"t":0.2114,"x":-0.347},{"t":0.2154,"x":-0.36},{"t":0.2095,"x":-0.413},{"t":0.2282,"x":-0.426},{"t":0.2345,"x":-0.411},{"t":0.2341,"x":-0.431},{"t":0.1884,"x":-0.432},{"t":0.206,"x":-0.48},{"t":0.2419,"x":-0.268},{"t":0.2567,"x":-0.329},{"t":0.2601,"x":-0.348},{"t":0.268,"x":-0.35},{"t":0.268,"x":-0.387},{"t":0.2611,"x":-0.436},{"t":0.2513,"x":-0.481},{"t":0.0011,"x":-0.366},{"t":0.0006,"x":-0.502},{"t":0.1023,"x":-0.411},{"t":0.0783,"x":-0.349},{"t":0.067,"x":-0.37},{"t":0.0596,"x":-0.344},{"t":0.0537,"x":-0.325},{"t":0.0483,"x":-0.31},{"t":0.0449,"x":-0.299},{"t":0.038,"x":-0.298},{"t":0.1156,"x":-0.32},{"t":0.116,"x":-0.342},{"t":0.1087,"x":-0.334},{"t":0.1254,"x":-0.285},{"t":0.1215,"x":-0.298},{"t":0.1009,"x":-0.331},{"t":0.0901,"x":-0.334},
{"t":0.2684,"x":-0.411},{"t":0.2817,"x":-0.406},{"t":0.2856,"x":-0.4},{"t":0.2905,"x":-0.394},{"t":0.212,"x":-0.376},{"t":0.3853,"x":-0.296},{"t":0.3948,"x":-0.38},{"t":0.4144,"x":-0.378},{"t":0.3398,"x":-0.441},{"t":0.3573,"x":-0.504},{"t":0.628,"x":-0.445}
]
},
"layer":[
{"data":{"name":"S1"},"mark":{"type":"circle","size":10,"opacity":1,"strokeWidth":0},
"encoding":{
"x":{"field":"t","type":"quantitative","scale":{"domain":[-0.05,1.2],"nice":false,"zero":false},"axis":{"title":"t","values":[0,0.2,0.4,0.6,0.8,1,1.2],"format":".1f","titlePadding":6}},
"y":{"field":"x","type":"quantitative","scale":{"domain":[-1.1,1.4],"nice":false,"zero":false},"axis":{"title":"x","values":[-1,-0.5,0,0.5,1],"format":".1f","titlePadding":17}},
"color":{"datum":"𝒮₁","type":"nominal","scale":{"domain":["𝒮₁","𝒟"],"range":["rgba(0,0,255,0.36)","#ff0000"]},
"legend":{"title":null,"orient":"none","legendX":743,"legendY":9,"padding":8,"symbolType":"circle","symbolSize":10,"symbolStrokeWidth":0,"symbolOpacity":1,"symbolOffset":11,"labelOffset":26,"labelFont":"Liberation Serif","labelFontSize":20,"labelColor":"black","rowPadding":9,"strokeColor":"#cccccc","fillColor":"rgba(255,255,255,0.8)","cornerRadius":4}}
}},
{"data":{"name":"D"},"mark":{"type":"circle","size":9,"opacity":1,"strokeWidth":0},
"encoding":{
"x":{"field":"t","type":"quantitative"},
"y":{"field":"x","type":"quantitative"},
"color":{"datum":"𝒟","type":"nominal"}
}}
]
}
